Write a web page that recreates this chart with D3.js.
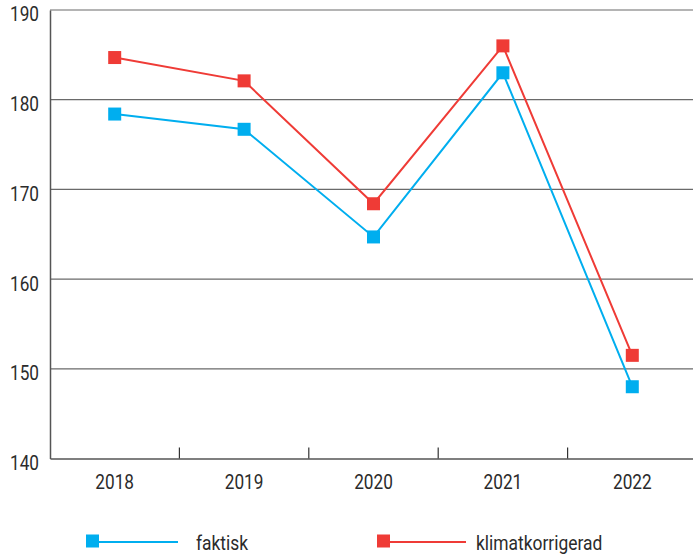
<!DOCTYPE html>
<html>
<head>
<meta charset="utf-8">
<script src="https://cdn.jsdelivr.net/npm/d3@7"></script>
<style>
  body { margin: 0; background: #fff; }
  svg text { font-family: Roboto, "Open Sans", sans-serif; fill: #2b2b2b; }
</style>
</head>
<body>
<svg id="chart" width="693" height="558"></svg>
<script>
// data
const years = ["2018", "2019", "2020", "2021", "2022"];
const faktisk = [178.4, 176.7, 164.7, 183.0, 148.0];
const klimatkorrigerad = [184.7, 182.1, 168.4, 186.0, 151.5];
const yTicks = [140, 150, 160, 170, 180, 190];
const seriesNames = ["faktisk", "klimatkorrigerad"];
const seriesColors = ["#00aeef", "#ef3b36"];

var svg = d3.select("#chart"),
    margin = {top: 10, right: -4, bottom: 100, left: 50},
    width = +svg.attr("width") - margin.left - margin.right,
    height = +svg.attr("height") - margin.top - margin.bottom;

var g = svg.append("g").attr("transform", "translate(" + margin.left + "," + margin.top + ")");

var x = d3.scaleBand().domain(years).range([0, width]);
var y = d3.scaleLinear().domain([140, 190]).range([height + 0.5, 0]);

// squeeze text a bit, reference font is condensed
function condense(sel, k) {
  sel.each(function() {
    var w = this.getComputedTextLength();
    d3.select(this).attr("textLength", w * k).attr("lengthAdjust", "spacingAndGlyphs");
  });
}

// gridlines
g.selectAll(".grid")
  .data(yTicks.filter(d => d > 140))
  .enter().append("line")
    .attr("x1", 0).attr("x2", 643)
    .attr("y1", d => y(d)).attr("y2", d => y(d))
    .attr("stroke", "#6a6a6a").attr("stroke-width", 1.2);

// y axis
var yAxis = g.append("g")
    .call(d3.axisLeft(y).tickValues(yTicks).tickSize(0).tickPadding(11));
yAxis.select(".domain").attr("stroke", "#555").attr("stroke-width", 1.5);
yAxis.selectAll("text")
    .attr("font-size", 20).attr("dy", "0.72em").attr("y", -3.5);
condense(yAxis.selectAll("text"), 0.86);

// x axis
var xAxis = g.append("g")
    .attr("transform", "translate(0," + y(140) + ")")
    .call(d3.axisBottom(x).tickSize(0).tickPadding(16));
xAxis.select(".domain").attr("stroke", "#555").attr("stroke-width", 1.5);
xAxis.selectAll("text").attr("font-size", 20);
condense(xAxis.selectAll("text"), 0.86);

// separator ticks between categories
g.selectAll(".sep")
  .data(years.slice(1))
  .enter().append("line")
    .attr("x1", d => x(d)).attr("x2", d => x(d))
    .attr("y1", y(140) - 11).attr("y2", y(140))
    .attr("stroke", "#333").attr("stroke-width", 1.2);

var line = d3.line()
    .x((d, i) => x(years[i]) + x.bandwidth() / 2)
    .y(d => y(d));

[faktisk, klimatkorrigerad].forEach(function(vals, s) {
  g.append("path")
    .datum(vals)
    .attr("fill", "none")
    .attr("stroke", seriesColors[s])
    .attr("stroke-width", 2)
    .attr("d", line);
  g.selectAll(".m" + s)
    .data(vals)
    .enter().append("rect")
      .attr("x", (d, i) => x(years[i]) + x.bandwidth() / 2 - 6.5)
      .attr("y", d => y(d) - 6.5)
      .attr("width", 13).attr("height", 13)
      .attr("fill", seriesColors[s]);
});

// legend
var legendX = [86, 377];
var legend = svg.selectAll(".legend")
  .data(seriesNames)
  .enter().append("g")
    .attr("transform", (d, i) => "translate(" + legendX[i] + ",541)");
legend.append("line")
    .attr("x1", 6).attr("x2", (d, i) => i == 0 ? 92 : 89)
    .attr("y1", 1).attr("y2", 1)
    .attr("stroke", (d, i) => seriesColors[i]).attr("stroke-width", 2);
legend.append("rect")
    .attr("x", 0).attr("y", -6.5).attr("width", 13).attr("height", 13)
    .attr("fill", (d, i) => seriesColors[i]);
var ltext = legend.append("text")
    .attr("x", (d, i) => i == 0 ? 110 : 99)
    .attr("y", 9)
    .attr("font-size", 20)
    .text(d => d);
condense(ltext, 0.87);
</script>
</body>
</html>
